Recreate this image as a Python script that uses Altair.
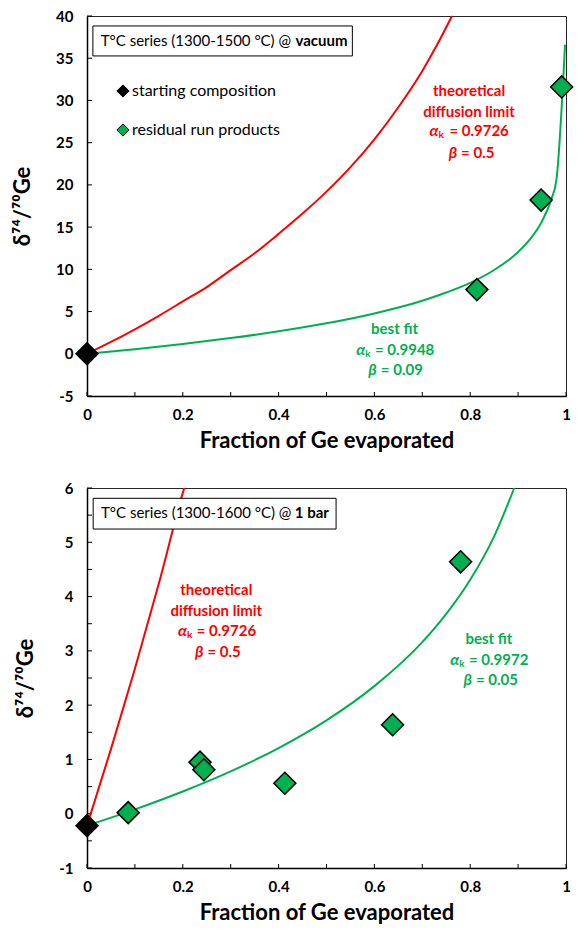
import altair as alt
import pandas as pd

FONT = "Lato"
GREEN = "#00B050"
RED = "#FF0000"
W, H = 479, 380

# ---------------- data: top panel (vacuum) ----------------
top_red_F = [0, 0.05, 0.1, 0.15, 0.2, 0.25, 0.3, 0.35, 0.4, 0.45, 0.5, 0.55, 0.6, 0.65, 0.7, 0.73, 0.762]
top_red_d = [0, 1.4, 2.9, 4.5, 6.2, 7.9, 9.9, 11.9, 14.2, 16.6, 19.2, 22.1, 25.4, 29.2, 33.5, 36.5, 40.0]
top_green_F = [0, 0.1, 0.2, 0.3, 0.4, 0.5, 0.6, 0.7, 0.75, 0.8, 0.85, 0.9, 0.93, 0.95, 0.97, 0.98, 0.998]
top_green_d = [0, 0.55, 1.16, 1.86, 2.66, 3.61, 4.78, 6.28, 7.25, 8.4, 9.92, 12.05, 13.93, 15.7, 18.4, 20.6, 36.6]
top_start_F = [0]
top_start_d = [0]
top_res_F = [0.814, 0.948, 0.991]
top_res_d = [7.6, 18.2, 31.6]
top_xticks = [0, 0.2, 0.4, 0.6, 0.8, 1]
top_xminor = [0, 0.1, 0.2, 0.3, 0.4, 0.5, 0.6, 0.7, 0.8, 0.9, 1]
top_yticks = [-5, 0, 5, 10, 15, 20, 25, 30, 35, 40]
top_yminor = [-5, 0, 5, 10, 15, 20, 25, 30, 35, 40]

# ---------------- data: bottom panel (1 bar) ----------------
bot_red_F = [0, 0.05, 0.1, 0.15, 0.2, 0.203]
bot_red_d = [-0.22, 1.19, 2.67, 4.24, 5.91, 6.0]
bot_green_F = [0, 0.1, 0.2, 0.3, 0.4, 0.5, 0.6, 0.7, 0.75, 0.8, 0.85, 0.892]
bot_green_d = [-0.22, 0.08, 0.41, 0.78, 1.21, 1.72, 2.35, 3.16, 3.68, 4.31, 5.11, 6.0]
bot_start_F = [0]
bot_start_d = [-0.22]
bot_res_F = [0.086, 0.236, 0.244, 0.413, 0.638, 0.780]
bot_res_d = [0.02, 0.95, 0.81, 0.56, 1.64, 4.64]
bot_xticks = [0, 0.2, 0.4, 0.6, 0.8, 1]
bot_xminor = [0, 0.1, 0.2, 0.3, 0.4, 0.5, 0.6, 0.7, 0.8, 0.9, 1]
bot_yticks = [-1, 0, 1, 2, 3, 4, 5, 6]
bot_yminor = [-1, -0.5, 0, 0.5, 1, 1.5, 2, 2.5, 3, 3.5, 4, 4.5, 5, 5.5, 6]

SERIES = ["starting composition", "residual run products"]

# annotation texts and anchor positions (data coordinates)
top_notes = {
    "box": {"F": [0.0123, 0.554], "d": [38.82, 35.27], "tF": 0.0286, "bF": 0.544, "td": 37.04,
            "reg": "T°C series (1300-1500 °C) @", "bold": "vacuum"},
    "red": {"lines": ["theoretical", "diffusion limit"], "cF": 0.7975, "ld": [31.1, 28.6],
            "aF": 0.734, "ad": 26.4, "kd": 25.9, "eF": 0.7566, "alpha": "= 0.9726",
            "bF": 0.773, "bd": 23.8, "beF": 0.781, "beta": "= 0.5"},
    "green": {"lines": ["best fit"], "cF": 0.642, "ld": [2.94],
              "aF": 0.581, "ad": 0.45, "kd": -0.02, "eF": 0.601, "alpha": "= 0.9948",
              "bF": 0.605, "bd": -1.92, "beF": 0.6135, "beta": "= 0.09"},
}
bot_notes = {
    "box": {"F": [0.0129, 0.52], "d": [5.81, 5.244], "tF": 0.0292, "bF": 0.505, "td": 5.533,
            "reg": "T°C series (1300-1600 °C) @", "bold": "1 bar"},
    "red": {"lines": ["theoretical", "diffusion limit"], "cF": 0.27, "ld": [4.12, 3.73],
            "aF": 0.2086, "ad": 3.37, "kd": 3.30, "eF": 0.229, "alpha": "= 0.9726",
            "bF": 0.2434, "bd": 2.98, "beF": 0.2515, "beta": "= 0.5"},
    "green": {"lines": ["best fit"], "cF": 0.839, "ld": [3.22],
              "aF": 0.777, "ad": 2.83, "kd": 2.76, "eF": 0.7975, "alpha": "= 0.9972",
              "bF": 0.8037, "bd": 2.46, "beF": 0.812, "beta": "= 0.05"},
}


def panel(red_F, red_d, green_F, green_d, start_F, start_d, res_F, res_d,
          xticks, xminor, yticks, yminor, ydom, notes, show_legend):
    xs = alt.Scale(domain=[0, 1], nice=False, zero=False)
    ys = alt.Scale(domain=ydom, nice=False, zero=False)
    xaxis = alt.Axis(values=xticks, format=".1~f", title="Fraction of Ge evaporated",
                     labelPadding=11, titlePadding=8, labelFlush=False)
    yaxis = alt.Axis(values=yticks, labelExpr="toString(datum.value)",
                     title="δ⁷⁴/⁷⁰Ge", labelPadding=14, titlePadding=21, labelFlush=False)
    X = lambda: alt.X("F:Q", scale=xs, axis=xaxis)
    Y = lambda: alt.Y("d:Q", scale=ys, axis=yaxis)

    # inward tick marks
    xt = alt.Chart(pd.DataFrame({"F": xminor})).mark_rule(color="black", strokeWidth=1).encode(
        x=X(), y=alt.value(H), y2=alt.value(H - 4))
    yt = alt.Chart(pd.DataFrame({"d": yminor})).mark_rule(color="black", strokeWidth=1).encode(
        y=Y(), x=alt.value(0), x2=alt.value(5))
    red = alt.Chart(pd.DataFrame({"F": red_F, "d": red_d})).mark_line(
        color=RED, strokeWidth=2, interpolate="monotone").encode(x=X(), y=Y())
    green = alt.Chart(pd.DataFrame({"F": green_F, "d": green_d})).mark_line(
        color=GREEN, strokeWidth=2, interpolate="monotone").encode(x=X(), y=Y())

    b = notes["box"]
    box = alt.Chart(pd.DataFrame({"F": [b["F"][0]], "F2": [b["F"][1]],
                                  "d": [b["d"][0]], "d2": [b["d"][1]]})).mark_rect(
        fill="white", stroke="black", strokeWidth=1).encode(
        x=X(), x2="F2:Q", y=Y(), y2="d2:Q")
    box_reg = alt.Chart(pd.DataFrame({"F": [b["tF"]], "d": [b["td"]], "t": [b["reg"]]})).mark_text(
        font=FONT, fontSize=15, color="black", align="left", baseline="middle").encode(
        x=X(), y=Y(), text="t:N")
    box_bold = alt.Chart(pd.DataFrame({"F": [b["bF"]], "d": [b["td"]], "t": [b["bold"]]})).mark_text(
        font=FONT, fontSize=15, fontWeight="bold", color="black", align="right",
        baseline="middle").encode(x=X(), y=Y(), text="t:N")

    layers = [xt, yt, red, green, box, box_reg, box_bold]

    def txt(F, d, t, color, align, italic=False, size=15):
        return alt.Chart(pd.DataFrame({"F": F, "d": d, "t": t})).mark_text(
            font=FONT, fontSize=size, fontWeight="bold",
            fontStyle="italic" if italic else "normal", color=color, align=align,
            baseline="middle").encode(x=X(), y=Y(), text="t:N")

    for key, color in (("red", RED), ("green", GREEN)):
        n = notes[key]
        layers.append(txt([n["cF"]] * len(n["lines"]), n["ld"], n["lines"], color, "center"))
        layers.append(txt([n["aF"]], [n["ad"]], ["α"], color, "right", italic=True, size=16))
        layers.append(txt([n["aF"]], [n["kd"]], ["k"], color, "left", size=10))
        layers.append(txt([n["eF"]], [n["ad"]], [n["alpha"]], color, "left"))
        layers.append(txt([n["bF"]], [n["bd"]], ["β"], color, "right", italic=True, size=16))
        layers.append(txt([n["beF"]], [n["bd"]], [n["beta"]], color, "left"))

    pts = pd.DataFrame({
        "F": list(start_F) + list(res_F),
        "d": list(start_d) + list(res_d),
        "s": [SERIES[0]] * len(start_F) + [SERIES[1]] * len(res_F),
    })
    if show_legend:
        leg = alt.Legend(orient="none", legendX=28, legendY=67, title=None,
                         symbolType="diamond", symbolSize=150, symbolStrokeColor="black",
                         symbolStrokeWidth=1, labelFont=FONT, labelFontSize=16,
                         labelFontWeight="normal", labelColor="black", labelOffset=1,
                         rowPadding=21, padding=0, symbolOpacity=1)
    else:
        leg = None
    points = alt.Chart(pts).mark_point(
        shape="diamond", filled=True, size=484, stroke="black", strokeWidth=1.5, opacity=1
    ).encode(
        x=X(), y=Y(),
        fill=alt.Fill("s:N", scale=alt.Scale(domain=SERIES, range=["black", GREEN]),
                      legend=leg, sort=SERIES),
    )
    layers.append(points)
    return alt.layer(*layers).properties(width=W, height=H)


top = panel(top_red_F, top_red_d, top_green_F, top_green_d, top_start_F, top_start_d,
            top_res_F, top_res_d, top_xticks, top_xminor, top_yticks, top_yminor,
            [-5, 40], top_notes, True)
bot = panel(bot_red_F, bot_red_d, bot_green_F, bot_green_d, bot_start_F, bot_start_d,
            bot_res_F, bot_res_d, bot_xticks, bot_xminor, bot_yticks, bot_yminor,
            [-1, 6], bot_notes, False)

chart = alt.vconcat(top, bot, spacing=28).resolve_scale(
    x="independent", y="independent", fill="independent"
).properties(
    padding={"left": 3, "top": 0, "right": 0, "bottom": 0}
).configure_view(
    stroke="#262626", strokeWidth=1
).configure_axis(
    labelFont=FONT, labelFontSize=15, labelFontWeight="bold", labelColor="black",
    titleFont=FONT, titleFontSize=22, titleFontWeight="bold", titleColor="black",
    domainColor="black", domainWidth=1.5, ticks=False, tickSize=0, grid=False,
)

chart.save("out.html", embed_options={"renderer": "svg", "actions": False})
